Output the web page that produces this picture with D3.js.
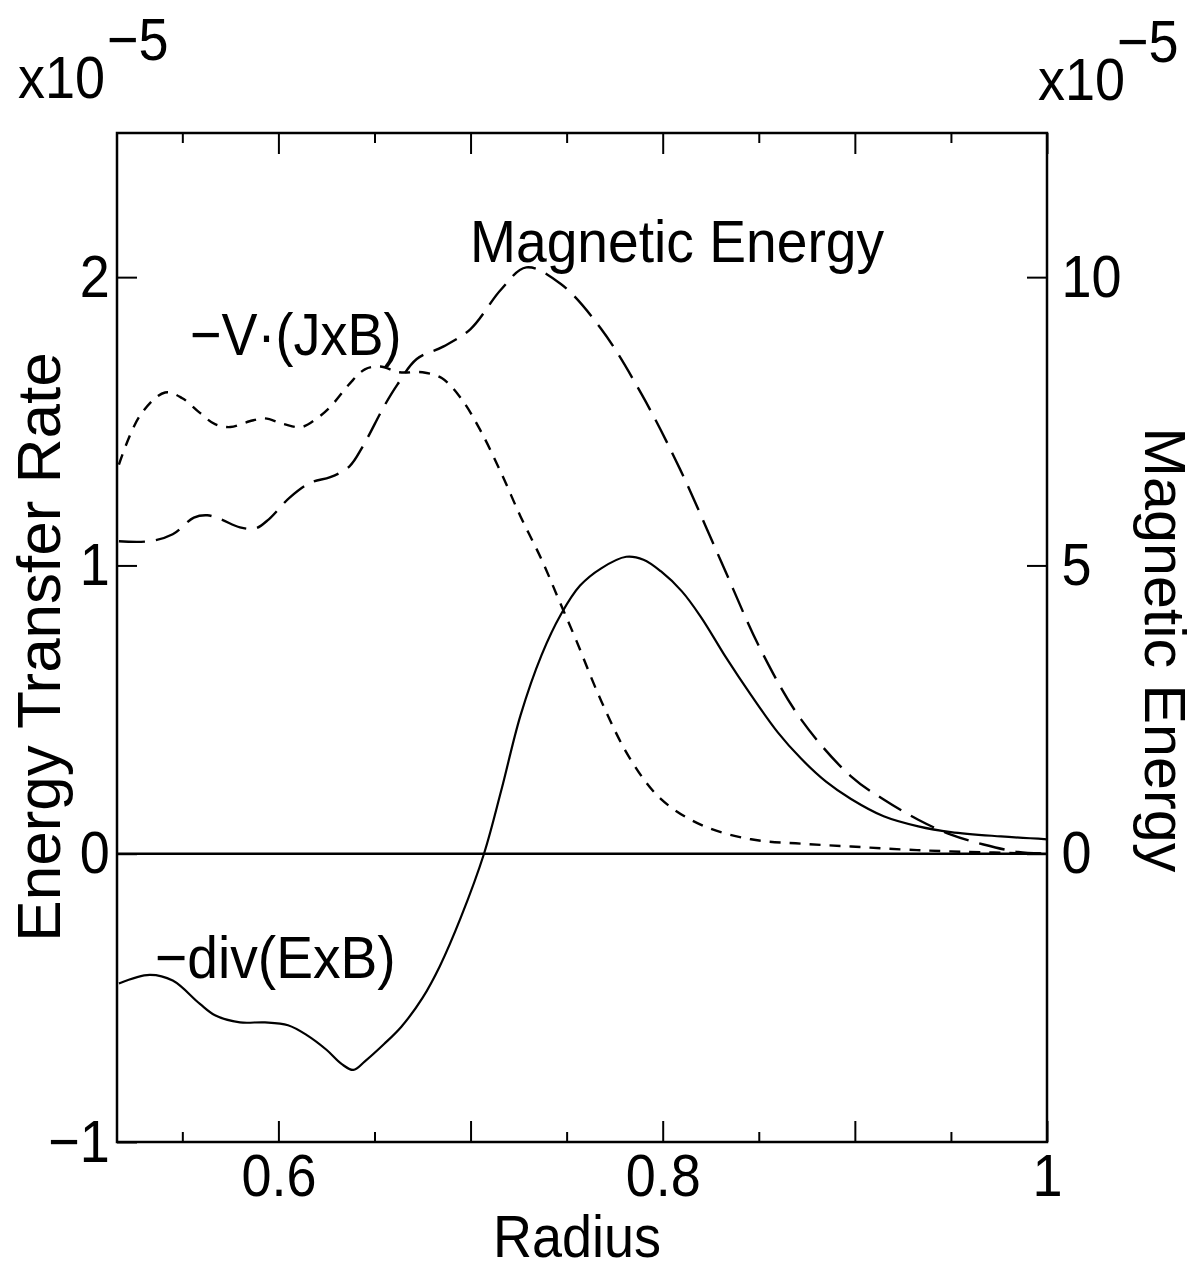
<!DOCTYPE html>
<html lang="en">
<head>
<meta charset="UTF-8" />
<title>Energy Transfer Rate vs Radius</title>
<script src="https://d3js.org/d3.v7.min.js"></script>
<style>
  body { margin: 0; background: #fff; }
  svg text { font-family: "Liberation Sans", Arial, sans-serif; fill: #000; }
</style>
</head>
<body>
<svg></svg>
<script>
var width = 1197;
var height = 1271;
var margin = { top: 133, right: 150, bottom: 129, left: 117 };
var squeeze = "scale(0.9,1)";

// -div(ExB), left axis (x1e-5)
var divR = [0.517, 0.533, 0.545, 0.559, 0.567, 0.580, 0.593, 0.605, 0.615, 0.625, 0.633, 0.639, 0.645, 0.655, 0.664, 0.675, 0.684, 0.695, 0.707, 0.716, 0.726, 0.737, 0.747, 0.757, 0.768, 0.781, 0.790, 0.799, 0.810, 0.820, 0.833, 0.846, 0.860, 0.872, 0.885, 0.898, 0.915, 0.933, 0.950, 0.976, 1.0];
var divVals = [-0.45, -0.42, -0.44, -0.52, -0.56, -0.585, -0.585, -0.595, -0.63, -0.68, -0.73, -0.75, -0.72, -0.66, -0.60, -0.50, -0.39, -0.22, 0.0, 0.22, 0.48, 0.69, 0.83, 0.93, 0.99, 1.03, 1.02, 0.98, 0.91, 0.82, 0.68, 0.55, 0.42, 0.33, 0.25, 0.19, 0.13, 0.095, 0.075, 0.06, 0.05];

// -V.(JxB), left axis (x1e-5)
var jxbR = [0.517, 0.528, 0.541, 0.550, 0.559, 0.567, 0.575, 0.585, 0.593, 0.603, 0.612, 0.620, 0.627, 0.637, 0.645, 0.653, 0.663, 0.675, 0.685, 0.695, 0.705, 0.716, 0.726, 0.737, 0.746, 0.755, 0.768, 0.783, 0.799, 0.820, 0.846, 0.872, 0.898, 0.924, 0.950, 1.0];
var jxbVals = [1.35, 1.52, 1.60, 1.58, 1.53, 1.49, 1.48, 1.50, 1.51, 1.49, 1.48, 1.51, 1.55, 1.63, 1.68, 1.69, 1.67, 1.67, 1.65, 1.58, 1.47, 1.32, 1.17, 1.02, 0.88, 0.74, 0.53, 0.33, 0.19, 0.10, 0.05, 0.035, 0.025, 0.015, 0.008, 0.0];

// Magnetic energy, right axis (x1e-5)
var meR = [0.517, 0.533, 0.545, 0.556, 0.563, 0.570, 0.580, 0.588, 0.595, 0.606, 0.617, 0.627, 0.637, 0.644, 0.655, 0.662, 0.672, 0.686, 0.700, 0.716, 0.729, 0.747, 0.768, 0.789, 0.809, 0.830, 0.851, 0.872, 0.898, 0.915, 0.933, 0.950, 0.967, 0.985, 1.0];
var meVals = [5.42, 5.42, 5.54, 5.83, 5.87, 5.80, 5.66, 5.64, 5.80, 6.18, 6.44, 6.53, 6.72, 7.07, 7.76, 8.14, 8.58, 8.80, 9.10, 9.79, 10.17, 9.88, 9.10, 7.97, 6.67, 5.10, 3.54, 2.33, 1.34, 0.94, 0.59, 0.33, 0.16, 0.03, 0.0];

var xMajor = [0.6, 0.7, 0.8, 0.9, 1.0];
var xMinor = [0.55, 0.65, 0.75, 0.85, 0.95];
var xLabels = { 0.6: "0.6", 0.8: "0.8", 1: "1" };
var yLeftTicks = [-1, 0, 1, 2];
var yRightTicks = [0, 5, 10];

var svg = d3.select("svg").attr("width", width).attr("height", height);

var x = d3.scaleLinear().domain([0.516, 1.0]).range([margin.left, width - margin.right]);
var y = d3.scaleLinear().domain([-1, 2.5]).range([height - margin.bottom, margin.top]);
var y2 = d3.scaleLinear().domain([-5, 12.5]).range([height - margin.bottom, margin.top]);

var bottomY = height - margin.bottom;
var rightX = width - margin.right;

function styleAxis(g, size) {
  g.select(".domain").remove();
  g.selectAll(".tick line").attr("stroke", "#000").attr("stroke-width", 2);
  g.selectAll(".tick text")
    .attr("fill", "#000")
    .style("font-size", size + "px")
    .attr("transform", squeeze);
}

// bottom axis with labels
svg.append("g")
  .attr("transform", `translate(0, ${bottomY})`)
  .call(d3.axisBottom(x).tickValues(xMajor).tickSizeInner(-21).tickSizeOuter(0).tickPadding(11)
    .tickFormat((d) => xLabels[d] || ""))
  .call((g) => styleAxis(g, 60));
svg.append("g")
  .attr("transform", `translate(0, ${bottomY})`)
  .call(d3.axisBottom(x).tickValues(xMinor).tickSizeInner(-10).tickSizeOuter(0).tickFormat(""))
  .call((g) => styleAxis(g, 60));

// top axis, ticks only
svg.append("g")
  .attr("transform", `translate(0, ${margin.top})`)
  .call(d3.axisBottom(x).tickValues(xMajor).tickSizeInner(21).tickSizeOuter(0).tickFormat(""))
  .call((g) => styleAxis(g, 60));
svg.append("g")
  .attr("transform", `translate(0, ${margin.top})`)
  .call(d3.axisBottom(x).tickValues(xMinor).tickSizeInner(10).tickSizeOuter(0).tickFormat(""))
  .call((g) => styleAxis(g, 60));

// left axis
svg.append("g")
  .attr("transform", `translate(${margin.left}, 0)`)
  .call(d3.axisLeft(y).tickValues(yLeftTicks).tickSizeInner(-20).tickSizeOuter(0).tickPadding(8)
    .tickFormat((d) => (d < 0 ? "\u2212" + Math.abs(d) : d)))
  .call((g) => styleAxis(g, 60));

// right axis
svg.append("g")
  .attr("transform", `translate(${rightX}, 0)`)
  .call(d3.axisRight(y2).tickValues(yRightTicks).tickSizeInner(-20).tickSizeOuter(0).tickPadding(16))
  .call((g) => styleAxis(g, 60));

// frame
svg.append("rect")
  .attr("x", margin.left)
  .attr("y", margin.top)
  .attr("width", rightX - margin.left)
  .attr("height", bottomY - margin.top)
  .attr("fill", "none")
  .attr("stroke", "#000")
  .attr("stroke-width", 2.5);

// zero line
svg.append("line")
  .attr("x1", margin.left).attr("x2", rightX)
  .attr("y1", y(0)).attr("y2", y(0))
  .attr("stroke", "#000").attr("stroke-width", 2.5);

var line = d3.line().curve(d3.curveCatmullRom.alpha(0.5));

svg.append("path")
  .attr("d", line(divR.map((r, i) => [x(r), y(divVals[i])])))
  .attr("fill", "none").attr("stroke", "#000").attr("stroke-width", 2.2);

svg.append("path")
  .attr("d", line(jxbR.map((r, i) => [x(r), y(jxbVals[i])])))
  .attr("fill", "none").attr("stroke", "#000").attr("stroke-width", 2.4)
  .attr("stroke-dasharray", "11,9");

svg.append("path")
  .attr("d", line(meR.map((r, i) => [x(r), y2(meVals[i])])))
  .attr("fill", "none").attr("stroke", "#000").attr("stroke-width", 2.4)
  .attr("stroke-dasharray", "26,11");

// text helper
function label(px, py, txt, size, rot, anchor, sx) {
  var t = svg.append("text")
    .attr("transform", `translate(${px}, ${py}) rotate(${rot || 0}) scale(${sx || 0.9},1)`)
    .style("font-size", size + "px")
    .attr("text-anchor", anchor || "start")
    .text(txt);
  return t;
}

// curve labels
label(470, 262, "Magnetic Energy", 60, 0, "start", 0.92);
label(190, 355, "\u2212V\u00b7(JxB)", 60);
label(155, 978, "\u2212div(ExB)", 60, 0, "start", 0.92);

// axis titles
label(577, 1257, "Radius", 60, 0, "middle");
label(60, 647, "Energy Transfer Rate", 62, -90, "middle", 1.0);
label(1145, 650, "Magnetic Energy", 57, 90, "middle", 1.04);

// exponent markers
label(18, 98, "x10", 60);
label(107, 60, "\u22125", 60);
label(1038, 100, "x10", 60);
label(1117, 62, "\u22125", 60);
</script>
</body>
</html>
